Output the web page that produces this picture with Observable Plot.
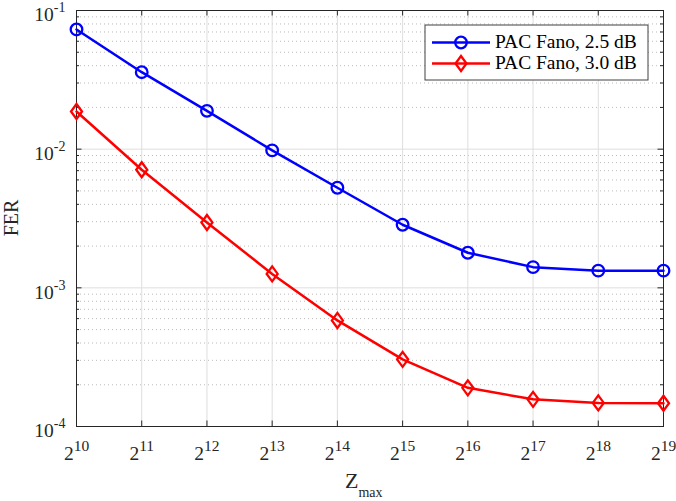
<!DOCTYPE html>
<html><head><meta charset="utf-8">
<script src="https://cdn.jsdelivr.net/npm/d3@7"></script>
<script src="https://cdn.jsdelivr.net/npm/@observablehq/plot@0.6"></script>
<style>
body{margin:0;background:#fff}
svg{font-family:"Liberation Serif","Times New Roman",serif}
</style>
</head><body><div id="chart"></div>
<script>
// ---- data ----
const exponents = [10, 11, 12, 13, 14, 15, 16, 17, 18, 19];   // Z_max = 2^k
const fer25 = [0.073, 0.0359, 0.0189, 0.0098, 0.00527, 0.00285, 0.00179, 0.00141, 0.00133, 0.00133];
const fer30 = [0.0187, 0.0071, 0.00296, 0.00126, 0.000582, 0.000305, 0.000190, 0.000157, 0.000148, 0.000147];
const seriesNames = ["PAC Fano, 2.5 dB", "PAC Fano, 3.0 dB"];
const seriesColors = ["#0000ff", "#ff0000"];
const yMajor = [1e-4, 1e-3, 1e-2, 1e-1];
const yMinorMultipliers = [2, 3, 4, 5, 6, 7, 8, 9];
const xLabelBase = "Z", xLabelSub = "max", yLabel = "FER";

const yMinor = yMajor.slice(0, -1).flatMap(d => yMinorMultipliers.map(m => m * d));
const rows = [
  ...exponents.map((k, i) => ({k, fer: fer25[i], series: seriesNames[0]})),
  ...exponents.map((k, i) => ({k, fer: fer30[i], series: seriesNames[1]}))
];

// ---- layout ----
const W = 676, H = 501, mL = 76, mR = 13, mT = 10, mB = 75;
const fw = W - mL - mR, fh = H - mT - mB;
const axisColor = "#262626";
const tallDiamond = {draw(ctx) { const w = 5.5, h = 7.5; ctx.moveTo(0, -h); ctx.lineTo(w, 0); ctx.lineTo(0, h); ctx.lineTo(-w, 0); ctx.closePath(); }};
const symbols = [d3.symbolCircle, tallDiamond];

const plot = Plot.plot({
  width: W, height: H,
  marginLeft: mL, marginRight: mR, marginTop: mT, marginBottom: mB,
  style: {fontFamily: "Liberation Serif", background: "white", color: axisColor},
  x: {domain: [10, 19]},
  y: {type: "log", domain: [1e-4, 1e-1]},
  color: {domain: seriesNames, range: seriesColors},
  marks: [
    Plot.ruleY(yMinor, {stroke: "#bcbcbc", strokeDasharray: "1,3", strokeWidth: 1}),
    Plot.gridX(exponents, {stroke: "#dedede", strokeOpacity: 1}),
    Plot.gridY(yMajor, {stroke: "#dedede", strokeOpacity: 1}),
    Plot.tickX(exponents, {x: d => d, insetBottom: fh - 5.5, stroke: axisColor}),
    Plot.tickX(exponents, {x: d => d, insetTop: fh - 5.5, stroke: axisColor}),
    Plot.tickY(yMajor, {y: d => d, insetRight: fw - 5.5, stroke: axisColor}),
    Plot.tickY(yMajor, {y: d => d, insetLeft: fw - 5.5, stroke: axisColor}),
    Plot.tickY(yMinor, {y: d => d, insetRight: fw - 3, stroke: axisColor}),
    Plot.tickY(yMinor, {y: d => d, insetLeft: fw - 3, stroke: axisColor}),
    Plot.frame({stroke: axisColor, strokeWidth: 1}),
    Plot.axisX(exponents, {tickSize: 0, tickPadding: 20, tickFormat: d => String(d), fontSize: 19, label: null}),
    Plot.axisY(yMajor, {tickSize: 0, tickPadding: 11, tickFormat: d => String(Math.round(Math.log10(d))), fontSize: 19, label: null}),
    Plot.line(rows, {x: "k", y: "fer", stroke: "series", strokeWidth: 2.5}),
    ...seriesNames.map((s, i) => Plot.dot(rows.filter(r => r.series === s), {
      x: "k", y: "fer", stroke: seriesColors[i], strokeWidth: 2.3, fill: "none", r: 5.8, symbol: symbols[i]
    }))
  ]
});
document.getElementById("chart").appendChild(plot);

const svg = d3.select(plot);
// superscript tick labels
svg.selectAll('[aria-label="x-axis tick label"] text').each(function () {
  const e = this.textContent; const t = d3.select(this);
  t.text(null).attr("font-size", "19.5px");
  t.append("tspan").text("2");
  t.append("tspan").attr("dy", -9).attr("font-size", "15.5px").text(e);
});
svg.selectAll('[aria-label="y-axis tick label"] text').each(function () {
  const e = this.textContent; const t = d3.select(this);
  t.text(null).attr("y", "0.55em").attr("font-size", "19.5px");
  t.append("tspan").text("10");
  t.append("tspan").attr("dy", -9).attr("font-size", "14px").text(e);
});

// axis labels
const xl = svg.append("text").attr("x", 345).attr("y", 488).attr("font-size", "22px")
  .attr("text-anchor", "start").attr("fill", axisColor);
xl.append("tspan").text(xLabelBase);
xl.append("tspan").attr("dy", 9).attr("font-size", "14px").text(xLabelSub);
svg.append("text").attr("transform", "translate(18,218) rotate(-90)").attr("text-anchor", "middle")
  .attr("font-size", "20px").attr("fill", axisColor).text(yLabel);

// legend
const lg = svg.append("g").attr("text-anchor", "start");
lg.append("rect").attr("x", 425).attr("y", 25).attr("width", 223).attr("height", 55)
  .attr("fill", "white").attr("stroke", "#404040").attr("stroke-width", 1);
seriesNames.forEach((s, i) => {
  const yy = 42.5 + i * 21;
  lg.append("line").attr("x1", 432).attr("x2", 490).attr("y1", yy).attr("y2", yy)
    .attr("stroke", seriesColors[i]).attr("stroke-width", 2.5);
  lg.append("path").attr("d", d3.symbol(symbols[i], 105)()).attr("transform", `translate(461,${yy})`)
    .attr("fill", "none").attr("stroke", seriesColors[i]).attr("stroke-width", 2.3);
  lg.append("text").attr("x", 495).attr("y", yy + 5).attr("font-size", "19.5px")
    .attr("text-anchor", "start").attr("fill", "#000").text(s);
});
</script>
</body></html>
